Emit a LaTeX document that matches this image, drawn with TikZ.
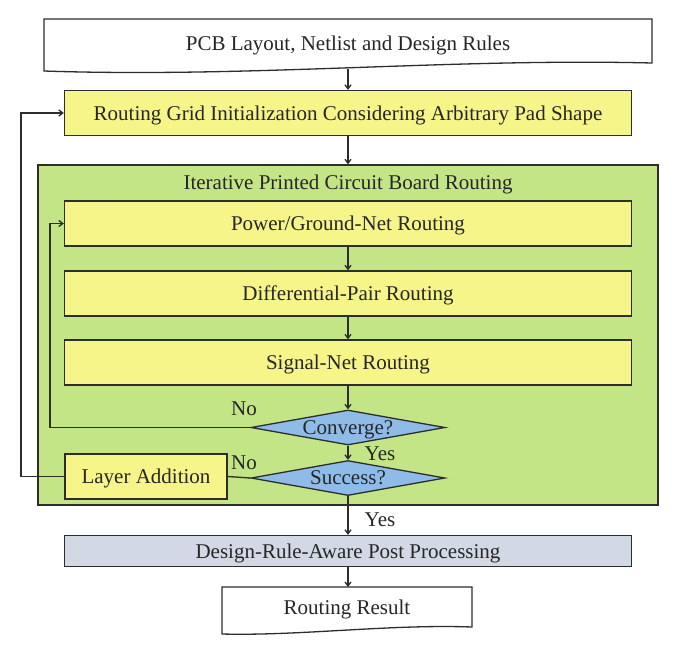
\documentclass[tikz,border=0pt]{standalone}
\usepackage{fontspec}
\setmainfont{Liberation Serif}
\usetikzlibrary{shapes.geometric,arrows.meta}
\definecolor{boxyellow}{RGB}{245,245,138}
\definecolor{boxgreen}{RGB}{195,229,134}
\definecolor{boxblue}{RGB}{142,187,232}
\definecolor{boxgray}{RGB}{211,217,228}
\definecolor{edge}{RGB}{45,45,45}
\tikzset{
  x=1pt, y=-1pt,
  every node/.style={font=\fontsize{21}{25}\selectfont, text=black!85, text depth=0pt},
  procbox/.style={draw=edge, line width=1.3pt, fill=boxyellow, minimum width=567pt, minimum height=45pt, inner sep=0pt},
  decbox/.style={diamond, draw=edge, line width=1.3pt, fill=boxblue, aspect=5.5, minimum width=194pt, minimum height=35pt, inner sep=0pt},
  flow/.style={draw=edge, line width=1.3pt, -{Straight Barb[length=4pt,width=6pt]}},
  plain/.style={draw=edge, line width=1.3pt},
  lbl/.style={inner sep=0pt}
}
\begin{document}
\begin{tikzpicture}
\useasboundingbox (0,0) rectangle (687,649);
% input document shape
\draw[plain, fill=white] (44,19) -- (652,19) -- (652,63) .. controls (450,58) and (250,78) .. (44,71) -- cycle;
\node[lbl] (input) at (348,43) {PCB Layout, Netlist and Design Rules};
\coordinate (inb) at (348,69);
% grid init
\node[procbox] (grid) at (348,113) {Routing Grid Initialization Considering Arbitrary Pad Shape};
% green container
\node[draw=edge, line width=1.3pt, fill=boxgreen, minimum width=620pt, minimum height=340pt, inner sep=0pt] (iter) at (348,335) {};
\node[lbl] (title) at (348,182) {Iterative Printed Circuit Board Routing};
\node[procbox] (pg) at (348,223.5) {Power/Ground-Net Routing};
\node[procbox] (dp) at (348,293.5) {Differential-Pair Routing};
\node[procbox] (sn) at (348,362.5) {Signal-Net Routing};
\node[decbox] (conv) at (348,427.5) {Converge?};
\node[decbox] (succ) at (348,478) {Success?};
\node[procbox, minimum width=162pt] (layer) at (146,476.5) {Layer Addition};
\node[lbl] (no1) at (244,409) {No};
\node[lbl] (no2) at (244,463) {No};
\node[lbl] (yes1) at (380,454) {Yes};
\node[lbl] (yes2) at (380,520) {Yes};
% post processing
\node[draw=edge, line width=1.3pt, fill=boxgray, minimum width=567pt, minimum height=31pt, inner sep=0pt] (post) at (348,551) {Design-Rule-Aware Post Processing};
% routing result document
\draw[plain, fill=white] (222,587) -- (472,587) -- (472,627) .. controls (390,624) and (300,636) .. (222,634) -- cycle;
\node[lbl] (result) at (347,607) {Routing Result};
\coordinate (resT) at (348,587);
% connectors
\draw[flow] (inb) -- (grid.north);
\draw[flow] (grid.south) -- (iter.north -| grid.south);
\draw[flow] (pg) -- (dp);
\draw[flow] (dp) -- (sn);
\draw[flow] (sn) -- (conv);
\draw[flow] (conv) -- (succ);
\draw[flow] (succ.south) -- (post.north);
\draw[flow] (post.south) -- (resT);
\draw[flow] (conv.west) -- (50,427.5) |- (pg.west);
\draw[plain] (succ.west) -- (layer.east);
\draw[flow] (layer.west) -- (21,476.5) |- (grid.west);
\end{tikzpicture}
\end{document}
